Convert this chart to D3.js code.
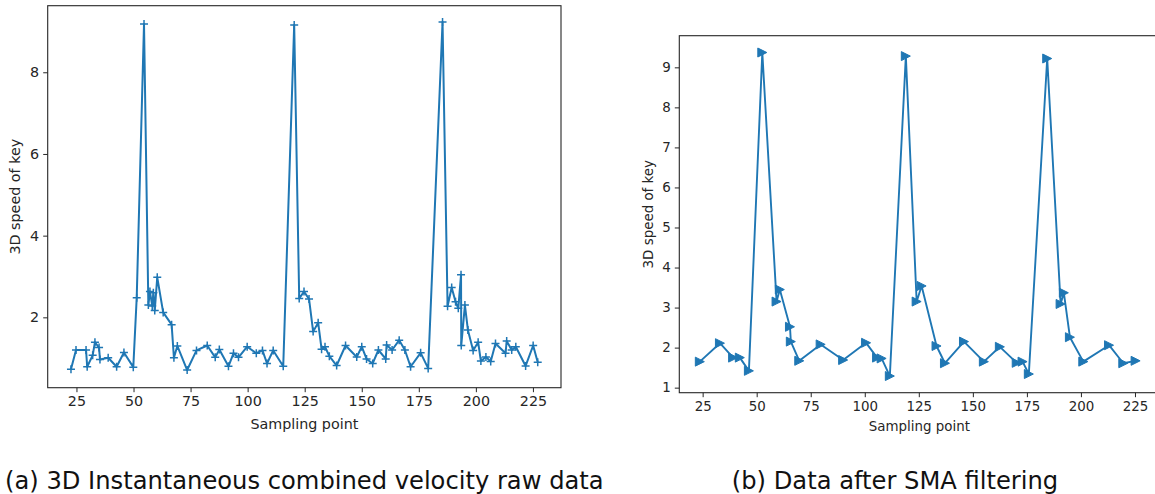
<!DOCTYPE html>
<html><head><meta charset="utf-8">
<script src="https://cdn.jsdelivr.net/npm/d3@7"></script>
<style>
html,body{margin:0;padding:0;background:#fff;}
svg{display:block;font-family:"DejaVu Sans",Verdana,sans-serif;}
</style></head>
<body><svg id="c" width="1155" height="494"></svg>
<script>
// ---- data ----
const rawX = [22.6,24.8,29.2,29.7,32.1,33.1,34.9,35.3,38.9,42.6,45.8,49.9,51.4,54.6,
  56.5,57.2,58.2,58.7,59.3,60.4,63.0,66.7,67.7,69.2,73.5,77.6,82.3,85.8,87.6,91.6,93.8,96.0,99.8,
  103.8,106.5,108.5,111.2,115.6,120.4,122.6,124.7,126.9,128.7,130.9,132.4,133.9,135.8,139.0,142.9,
  147.8,150.0,152.1,154.8,157.3,160.5,160.9,163.3,166.4,168.9,171.4,175.8,179.1,185.4,
  187.6,189.4,191.1,192.3,193.5,193.6,195.2,196.5,198.8,201.0,202.2,204.4,206.5,208.6,213.0,213.5,
  215.7,217.5,221.8,225.1,227.1];
const rawV = [0.73,1.2,1.2,0.79,1.07,1.39,1.26,0.97,1.01,0.79,1.14,0.78,2.48,9.18,
  2.3,2.63,2.28,2.6,2.17,2.98,2.12,1.82,1.01,1.3,0.71,1.19,1.31,1.02,1.21,0.8,1.12,1.02,1.28,
  1.12,1.19,0.87,1.19,0.8,9.16,2.46,2.63,2.45,1.65,1.87,1.22,1.28,1.05,0.82,1.31,
  1.03,1.28,0.98,0.87,1.2,0.98,1.32,1.2,1.44,1.2,0.79,1.13,0.75,9.23,
  2.27,2.73,2.38,2.22,3.04,1.31,2.3,1.69,1.19,1.39,0.93,1.03,0.92,1.36,1.12,1.42,
  1.2,1.28,0.81,1.31,0.9];

const smaX = [23.7,33.0,39.1,42.2,46.4,52.6,59.2,60.7,65.4,65.8,69.7,79.6,90.0,100.6,105.7,107.8,111.6,
  119.0,124.0,126.3,133.2,137.1,145.9,155.1,162.5,170.3,173.0,175.9,184.4,190.6,192.1,194.9,201.1,213.0,219.6,225.3];
const smaV = [1.65,2.11,1.75,1.75,1.42,9.37,3.15,3.45,2.52,2.15,1.67,2.08,1.69,2.12,1.75,1.73,1.29,
  9.28,3.15,3.54,2.04,1.61,2.15,1.65,2.02,1.62,1.65,1.34,9.22,3.09,3.37,2.26,1.65,2.06,1.61,1.67];

const xTicks = [25,50,75,100,125,150,175,200,225];
const yTicksA = [2,4,6,8];
const yTicksB = [1,2,3,4,5,6,7,8,9];

const xLabel = "Sampling point";
const yLabel = "3D speed of key";
const captionA = "(a) 3D Instantaneous combined velocity raw data";
const captionB = "(b) Data after SMA filtering";

// ---- drawing ----
const svg = d3.select("#c");
const blue = "#1f77b4";
const ink = "#262626";

function panel(o){
  const g = svg.append("g");
  const x = d3.scaleLinear().domain(o.xDom).range([o.left, o.right]);
  const y = d3.scaleLinear().domain(o.yDom).range([o.bottom, o.top]);

  // data line
  g.append("path")
    .datum(o.xs.map((d,i)=>[d,o.ys[i]]))
    .attr("fill","none").attr("stroke",blue).attr("stroke-width",o.lw)
    .attr("stroke-linejoin","round")
    .attr("d", d3.line().x(d=>x(d[0])).y(d=>y(d[1])));

  // markers
  const pts = o.xs.map((d,i)=>[x(d), y(o.ys[i])]);
  const h = o.ms/2;
  if (o.marker === "plus"){
    g.append("g").selectAll("path").data(pts).join("path")
      .attr("d", d=>`M${d[0]-h},${d[1]}H${d[0]+h}M${d[0]},${d[1]-h}V${d[1]+h}`)
      .attr("stroke",blue).attr("stroke-width",1.5).attr("fill","none");
  } else {
    g.append("g").selectAll("path").data(pts).join("path")
      .attr("d", d=>`M${d[0]+h},${d[1]}L${d[0]-h},${d[1]-h}L${d[0]-h},${d[1]+h}Z`)
      .attr("fill",blue).attr("stroke",blue).attr("stroke-width",1).attr("stroke-linejoin","miter");
  }

  // axes
  const ax = g.append("g").attr("transform",`translate(0,${o.bottom})`)
    .call(d3.axisBottom(x).tickValues(xTicks).tickSize(4.5).tickPadding(4));
  const ay = g.append("g").attr("transform",`translate(${o.left},0)`)
    .call(d3.axisLeft(y).tickValues(o.yTicks).tickSize(4.5).tickPadding(4).tickFormat(d3.format("d")));
  [ax,ay].forEach(a=>{
    a.select(".domain").remove();
    a.selectAll(".tick line").attr("stroke",ink).attr("stroke-width",1);
    a.selectAll(".tick text").attr("fill",ink).style("font-size",o.fs+"px")
      .style("font-family","'DejaVu Sans',sans-serif");
  });

  // frame (spines)
  g.append("rect").attr("x",o.left).attr("y",o.top)
    .attr("width",o.right-o.left).attr("height",o.bottom-o.top)
    .attr("fill","none").attr("stroke",ink).attr("stroke-width",1.1);

  // axis labels
  g.append("text").attr("x",(o.left+o.right)/2).attr("y",o.xlY)
    .attr("text-anchor","middle").attr("fill",ink).style("font-size",o.fs+"px").text(xLabel);
  g.append("text").attr("transform",`translate(${o.ylX},${(o.top+o.bottom)/2}) rotate(-90)`)
    .attr("text-anchor","middle").attr("fill",ink).style("font-size",o.fs+"px").text(yLabel);
}

// panel (a)
panel({
  xs: rawX, ys: rawV, marker: "plus", ms: 8, lw: 2,
  xDom: [12.4, 237.3], yDom: [0.277, 9.63],
  left: 47.7, right: 561, top: 5.7, bottom: 387.7,
  yTicks: yTicksA, fs: 14.3, xlY: 429, ylX: 20
});

// panel (b)
panel({
  xs: smaX, ys: smaV, marker: "tri", ms: 9, lw: 1.9,
  xDom: [14.2, 236.3], yDom: [0.874, 9.79],
  left: 679.3, right: 1159.4, top: 35.7, bottom: 392.7,
  yTicks: yTicksB, fs: 13.4, xlY: 431, ylX: 653
});

// captions
svg.append("text").attr("x",5).attr("y",489).attr("fill","#111")
  .style("font-size","24.2px").text(captionA);
svg.append("text").attr("x",895).attr("y",489).attr("text-anchor","middle").attr("fill","#111")
  .style("font-size","24.2px").text(captionB);
</script>
</body></html>
